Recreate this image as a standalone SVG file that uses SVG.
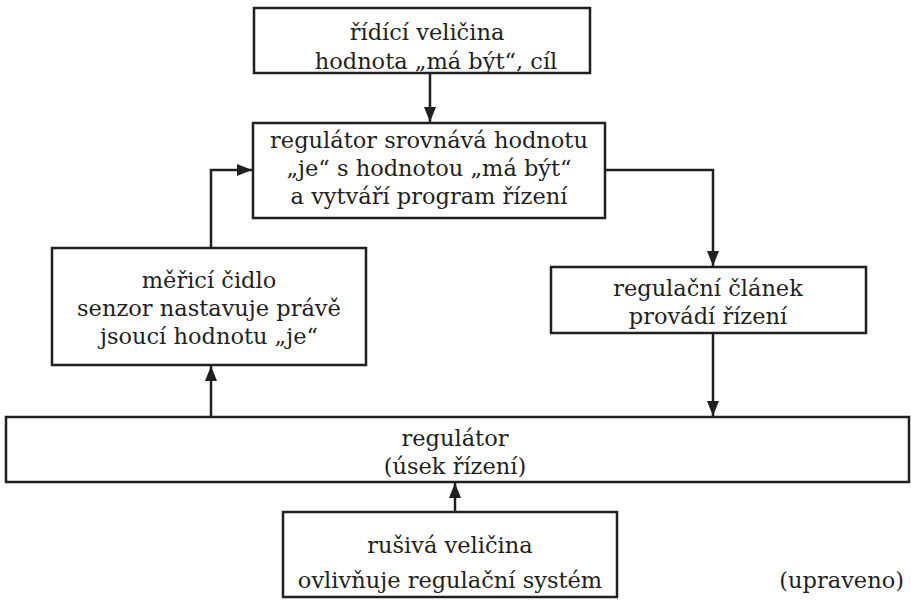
<svg xmlns="http://www.w3.org/2000/svg" width="911" height="602" viewBox="0 0 911 602">
<style>
.box{fill:#fff;stroke:#231f20;stroke-width:2.5}
.t{font-family:"DejaVu Serif","Liberation Serif",serif;font-size:22.5px;fill:#231f20;text-anchor:middle}
.c{fill:none;stroke:#231f20;stroke-width:2.5}
</style>
<defs>
<marker id="ah" viewBox="0 0 15 15" refX="15" refY="7.5" markerWidth="15" markerHeight="15" markerUnits="userSpaceOnUse" orient="auto">
<path d="M0,1.5 L15,7.5 L0,13.5 Z" fill="#231f20"/>
</marker>
</defs>
<rect width="911" height="602" fill="#fff"/>
<g id="connectors">
<path class="c" d="M430,73 V122" marker-end="url(#ah)"/>
<path class="c" d="M211,248 V170 H252" marker-end="url(#ah)"/>
<path class="c" d="M605,170 H713 V266" marker-end="url(#ah)"/>
<path class="c" d="M211,417 V366" marker-end="url(#ah)"/>
<path class="c" d="M713,333 V416" marker-end="url(#ah)"/>
<path class="c" d="M455,512 V483" marker-end="url(#ah)"/>
</g>
<g id="n1">
<rect class="box" x="254" y="8" width="336" height="65"/>
<text class="t" x="427" y="40">řídící veličina</text>
<text class="t" x="436" y="69">hodnota „má být“, cíl</text>
</g>
<g id="n2">
<rect class="box" x="253" y="123" width="352" height="95"/>
<text class="t" x="429" y="148">regulátor srovnává hodnotu</text>
<text class="t" x="429" y="176">„je“ s hodnotou „má být“</text>
<text class="t" x="429" y="204">a vytváří program řízení</text>
</g>
<g id="n3">
<rect class="box" x="52" y="248" width="314" height="117"/>
<text class="t" x="209" y="288">měřicí čidlo</text>
<text class="t" x="209" y="316">senzor nastavuje právě</text>
<text class="t" x="209" y="344">jsoucí hodnotu „je“</text>
</g>
<g id="n4">
<rect class="box" x="551" y="267" width="315" height="66"/>
<text class="t" x="708" y="296">regulační článek</text>
<text class="t" x="708" y="324">provádí řízení</text>
</g>
<g id="n5">
<rect class="box" x="6" y="417" width="903" height="65"/>
<text class="t" x="455" y="446">regulátor</text>
<text class="t" x="455" y="474">(úsek řízení)</text>
</g>
<g id="n6">
<rect class="box" x="283" y="512" width="334" height="85"/>
<text class="t" x="450" y="553">rušivá veličina</text>
<text class="t" x="450" y="588">ovlivňuje regulační systém</text>
</g>
<text class="t" x="904" y="588" style="text-anchor:end">(upraveno)</text>
</svg>
